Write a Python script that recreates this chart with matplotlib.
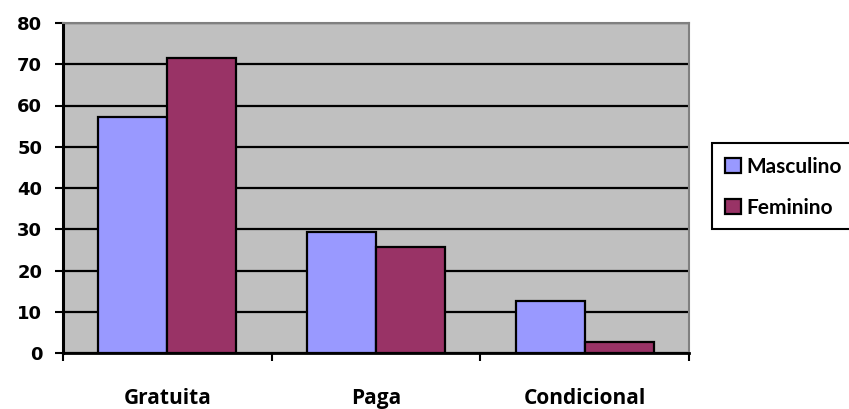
import numpy as np
import matplotlib
matplotlib.use('Agg')
import matplotlib.pyplot as plt
from matplotlib.patches import Rectangle

# --- Data ---
categories = ['Gratuita', 'Paga', 'Condicional']
masculino = [57.1, 29.3, 12.7]
feminino = [71.4, 25.8, 2.6]
yticks = [0, 10, 20, 30, 40, 50, 60, 70, 80]

c_masc = '#9999FF'
c_fem = '#993366'

# --- Plot ---
fig = plt.figure(figsize=(8.49, 4.09), dpi=100)
ax = fig.add_axes([63 / 849, 1 - 353 / 409, 626 / 849, 330 / 409])
ax.set_facecolor('#C0C0C0')

x = np.arange(len(categories))
w = 0.33
ax.bar(x - w / 2, masculino, w, color=c_masc, edgecolor='black', linewidth=1.6,
       label='Masculino', zorder=3)
ax.bar(x + w / 2, feminino, w, color=c_fem, edgecolor='black', linewidth=1.6,
       label='Feminino', zorder=3)

ax.set_xlim(-0.5, len(categories) - 0.5)
ax.set_ylim(0, 80)
ax.set_yticks(yticks)
ax.set_yticklabels([str(v) for v in yticks], fontsize=13, fontweight='bold')
ax.yaxis.grid(True, color='black', linewidth=1.6, zorder=1)
ax.set_axisbelow(True)

# boundaries get tick marks, centres carry the labels
ax.set_xticks(np.arange(len(categories) + 1) - 0.5)
ax.set_xticklabels([])
ax.set_xticks(x, minor=True)
ax.set_xticklabels(categories, minor=True, fontsize=15, fontweight='bold',
                   family=['Open Sans', 'DejaVu Sans'])
ax.tick_params(axis='x', which='major', direction='out', length=6, width=1.5)
ax.tick_params(axis='x', which='minor', length=0, pad=25)
ax.tick_params(axis='y', direction='out', length=6, width=1.5, pad=9)

ax.spines['left'].set_linewidth(2.2)
ax.spines['bottom'].set_linewidth(2.0)
for s in ('top', 'right'):
    ax.spines[s].set_color('#808080')
    ax.spines[s].set_linewidth(1.5)

# legend box runs off the right edge
fig.patches.append(Rectangle((712 / 849, 1 - 229 / 409), 0.3, 86 / 409,
                             transform=fig.transFigure, facecolor='white',
                             edgecolor='black', linewidth=1.5, zorder=1))
fig.legend(loc='upper left', bbox_to_anchor=(725 / 849, 1 - 157 / 409),
           frameon=False, prop={'family': ['Lato', 'DejaVu Sans'],
                                'weight': 'bold', 'size': 15},
           handlelength=0.75, handleheight=0.75, handletextpad=0.3,
           labelspacing=1.0, borderpad=0, borderaxespad=0)

plt.savefig('out.png', dpi=100)
